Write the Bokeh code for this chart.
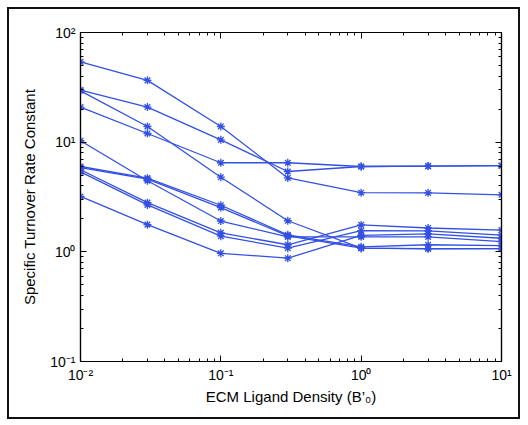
from bokeh.plotting import figure
from bokeh.models import LogAxis, FixedTicker, Range1d, CustomJSTickFormatter
from bokeh.embed import file_html
from bokeh.resources import INLINE

# ---- data ----
ligand_density = [0.01, 0.03, 0.1, 0.3, 1, 3, 10]

series_a = [54.0, 36.6, 13.9, 4.72, 3.46, 3.45, 3.31]
series_b = [29.8, 20.9, 10.5, 5.40, 6.00, 6.05, 6.10]
series_c = [29.4, 13.9, 4.79, 1.92, 1.08, 1.07, 1.07]
series_d = [20.9, 12.0, 6.49, 6.49, 6.00, 6.05, 6.10]
series_e = [10.3, 4.45, 1.91, 1.37, 1.37, 1.37, 1.24]
series_f = [6.00, 4.70, 2.66, 1.43, 1.11, 1.16, 1.14]
series_g = [5.85, 4.60, 2.53, 1.40, 1.08, 1.065, 1.07]
series_h = [5.60, 2.81, 1.49, 1.16, 1.76, 1.65, 1.58]
series_i = [5.35, 2.68, 1.39, 1.08, 1.56, 1.55, 1.42]
series_j = [3.20, 1.77, 0.97, 0.875, 1.41, 1.46, 1.33]

all_series = [series_a, series_b, series_c, series_d, series_e,
              series_f, series_g, series_h, series_i, series_j]

x_ticks = [0.01, 0.1, 1, 10]
y_ticks = [0.1, 1, 10, 100]

x_label = "ECM Ligand Density (B\u2019\u2080)"
y_label = "Specific Turnover Rate Constant"

# ---- styling ----
LINE_COLOR = "#3350e4"
FONT = "Liberation Sans"


def minor_between(ticks):
    out = []
    for t in ticks[:-1]:
        out += [t * k for k in range(2, 10)]
    return out


x_ticker = FixedTicker(ticks=x_ticks, minor_ticks=minor_between(x_ticks))
y_ticker = FixedTicker(ticks=y_ticks, minor_ticks=minor_between(y_ticks))

# power-of-ten labels with unicode superscripts
pow_fmt = CustomJSTickFormatter(code="""
const sup = {'-':'\u207b','0':'\u2070','1':'\u00b9','2':'\u00b2','3':'\u00b3',
             '4':'\u2074','5':'\u2075','6':'\u2076','7':'\u2077','8':'\u2078','9':'\u2079'};
const e = String(Math.round(Math.log10(tick)));
return '10' + e.split('').map(c => sup[c]).join('');
""")
blank_fmt = CustomJSTickFormatter(code="return ' ';")

p = figure(width=509, height=408,
           x_axis_type="log", y_axis_type="log",
           x_range=Range1d(x_ticks[0], x_ticks[-1]),
           y_range=Range1d(y_ticks[0], y_ticks[-1]),
           output_backend="svg", toolbar_location=None,
           min_border_left=71, min_border_right=21,
           min_border_top=23, min_border_bottom=60)

# outer frame drawn as a CSS border around the figure
p.styles = {"border": "2px solid #111111", "box-sizing": "content-box",
            "margin": "7px 0 0 7px"}

p.grid.visible = False
p.background_fill_color = "white"
p.border_fill_color = "white"
p.outline_line_color = "black"
p.outline_line_width = 1.2

for s in all_series:
    p.line(ligand_density, s, line_color=LINE_COLOR, line_width=1.3)
    p.scatter(ligand_density, s, marker="asterisk", size=8,
              line_color=LINE_COLOR, line_width=1.3)

# main axes
xa = p.xaxis[0]
ya = p.yaxis[0]
xa.ticker = x_ticker
ya.ticker = y_ticker
xa.formatter = pow_fmt
ya.formatter = pow_fmt
xa.axis_label = x_label
ya.axis_label = y_label

for ax in (xa, ya):
    ax.axis_line_color = "black"
    ax.axis_line_width = 1.2
    ax.major_tick_in = 6
    ax.major_tick_out = 0
    ax.minor_tick_in = 3
    ax.minor_tick_out = 0
    ax.major_tick_line_color = "black"
    ax.minor_tick_line_color = "black"
    ax.major_label_text_font = FONT
    ax.major_label_text_font_size = "14px"
    ax.major_label_text_color = "black"
    ax.axis_label_text_font = FONT
    ax.axis_label_text_font_size = "15px"
    ax.axis_label_text_font_style = "normal"
    ax.axis_label_text_color = "black"
    ax.major_label_standoff = 5

xa.axis_label_standoff = 2
ya.axis_label_standoff = 9

# box axes (top and right), ticks only
for loc, tk in (("above", x_ticker), ("right", y_ticker)):
    ax = LogAxis(ticker=tk, formatter=blank_fmt)
    ax.axis_line_color = "black"
    ax.axis_line_width = 1.2
    ax.major_tick_in = 6
    ax.major_tick_out = 0
    ax.minor_tick_in = 3
    ax.minor_tick_out = 0
    ax.major_label_text_font_size = "4px"
    ax.major_label_standoff = 0
    p.add_layout(ax, loc)

open("out.html", "w").write(file_html(p, INLINE))
